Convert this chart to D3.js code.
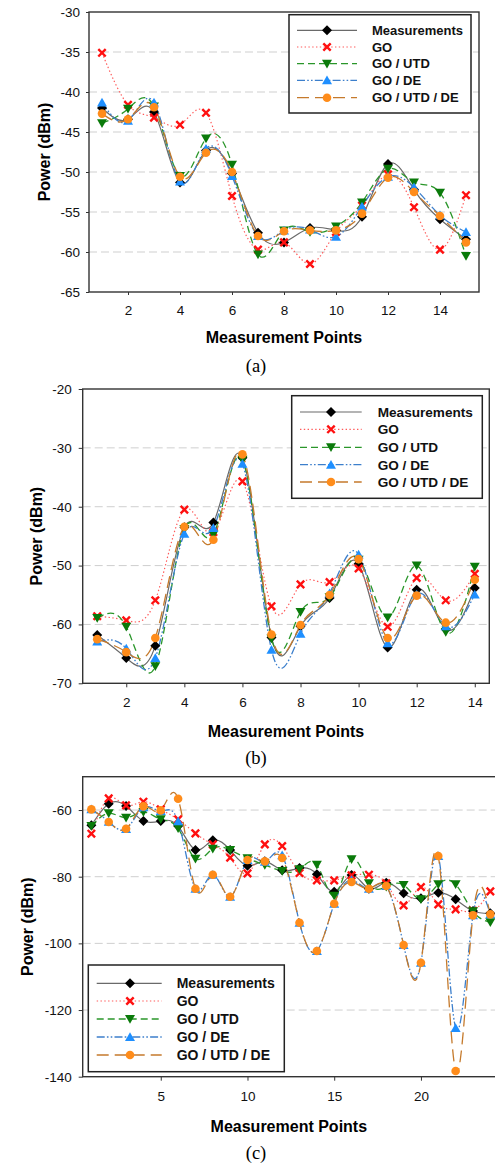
<!DOCTYPE html>
<html><head><meta charset="utf-8">
<script src="https://cdn.jsdelivr.net/npm/d3@7"></script>
<style>body{margin:0;background:#fff} svg{display:block}</style>
</head><body>
<script>
// ---------- DATA ----------
const seriesNames = ["Measurements", "GO", "GO / UTD", "GO / DE", "GO / UTD / DE"];

// Panel (a)
const pointsA = [1,2,3,4,5,6,7,8,9,10,11,12,13,14,15];
const measA  = [-42.0,-43.4,-42.5,-51.3,-47.3,-50.2,-57.6,-58.8,-57.0,-57.3,-55.6,-49.0,-52.2,-55.9,-58.4];
const goA    = [-35.1,-41.6,-43.2,-44.1,-42.6,-53.0,-59.7,-58.8,-61.5,-57.5,-54.2,-50.3,-54.4,-59.7,-52.9];
const utdA   = [-43.9,-42.1,-41.8,-50.5,-45.8,-49.1,-60.3,-57.3,-57.5,-56.8,-53.8,-49.6,-51.3,-52.6,-60.5];
const deA    = [-41.3,-43.6,-41.3,-51.2,-47.1,-50.5,-58.0,-57.3,-57.2,-58.1,-54.3,-50.6,-51.9,-55.4,-57.5];
const utddeA = [-42.7,-43.4,-41.9,-50.6,-47.6,-50.0,-58.0,-57.4,-57.3,-57.3,-55.2,-50.7,-52.5,-55.5,-58.8];
const xTicksA = [2,4,6,8,10,12,14];
const yTicksA = [-30,-35,-40,-45,-50,-55,-60,-65];
const yGridA  = [-35,-40,-45,-50,-55,-60];

// Panel (b)
const pointsB = [1,2,3,4,5,6,7,8,9,10,11,12,13,14];
const measB  = [-61.8,-65.7,-63.6,-43.5,-42.7,-31.7,-62.2,-60.3,-55.5,-49.7,-63.9,-54.1,-60.8,-53.8];
const goB    = [-58.6,-59.3,-55.9,-40.5,-44.3,-35.7,-56.9,-53.2,-52.8,-50.5,-60.4,-52.1,-55.9,-51.4];
const utdB   = [-58.9,-60.4,-67.1,-43.8,-44.7,-32.0,-62.4,-57.9,-55.4,-49.0,-58.8,-50.0,-61.3,-50.2];
const deB    = [-62.9,-64.1,-65.7,-44.6,-43.6,-32.7,-64.3,-61.6,-54.7,-48.1,-63.2,-54.9,-60.3,-54.9];
const utddeB = [-62.5,-64.7,-62.3,-43.4,-45.6,-31.1,-61.7,-60.1,-55.0,-48.9,-62.3,-55.1,-59.7,-52.4];
const xTicksB = [2,4,6,8,10,12,14];
const yTicksB = [-20,-30,-40,-50,-60,-70];
const yGridB  = [-30,-40,-50,-60];

// Panel (c)
const pointsC = [1,2,3,4,5,6,7,8,9,10,11,12,13,14,15,16,17,18,19,20,21,22,23,24];
const measC  = [-64.6,-58.1,-58.8,-63.3,-63.3,-64.8,-72.0,-69.1,-72.0,-76.7,-75.4,-78.1,-77.4,-79.3,-84.5,-79.5,-83.6,-81.8,-85.0,-86.5,-84.8,-86.8,-90.3,-91.0];
const goC    = [-67.1,-56.5,-58.6,-57.5,-59.8,-62.8,-67.0,-70.3,-74.3,-79.0,-70.3,-70.8,-78.9,-81.1,-81.1,-79.6,-79.4,-82.0,-88.6,-83.1,-88.3,-89.8,-90.2,-84.4];
const utdC   = [-64.8,-61.0,-62.3,-60.6,-62.8,-65.5,-74.6,-71.6,-72.0,-74.5,-76.5,-78.3,-77.8,-76.4,-85.7,-74.8,-82.0,-83.0,-82.5,-86.8,-82.3,-82.3,-90.4,-93.7];
const deC    = [-59.8,-63.5,-65.7,-59.2,-60.3,-63.4,-83.6,-79.4,-86.0,-75.0,-75.5,-73.6,-93.8,-102.3,-88.1,-81.0,-83.6,-82.8,-100.5,-105.8,-73.8,-125.4,-91.6,-91.3];
const utddeC = [-59.8,-63.6,-65.6,-58.9,-60.1,-56.6,-83.6,-79.4,-86.0,-75.0,-75.4,-74.4,-93.8,-102.3,-88.1,-81.6,-83.6,-82.8,-100.5,-105.8,-73.8,-138.3,-91.6,-91.3];
const xTicksC = [5,10,15,20];
const yTicksC = [-60,-80,-100,-120,-140];
const yGridC  = [-60,-80,-100,-120];

// ---------- STYLES ----------
const styles = [
  {line:"#6a6a6a", dash:null,               width:1.2, marker:"diamond", fill:"#000"},
  {line:"#ff5a5a", dash:"1.4,2.4",          width:1.2, marker:"cross",   fill:"#ff1010"},
  {line:"#2a962a", dash:"7,4",              width:1.3, marker:"tdown",   fill:"#0a7a0a"},
  {line:"#3c7fcc", dash:"8,2.2,1.6,2.2,1.6,2.2", width:1.3, marker:"tup", fill:"#1e8fff"},
  {line:"#c57a2c", dash:"12,6",             width:1.3, marker:"circle",  fill:"#ff8c1a"}
];

const FONT = "'Liberation Sans', Arial, sans-serif";
const svg = d3.select("body").append("svg").attr("width",495).attr("height",1167);

function drawMarker(g, type, cx, cy, fill, s) {
  s = s || 1;
  if (type === "diamond") {
    const r = 5*s;
    g.append("path").attr("d",`M${cx},${cy-r}L${cx+r},${cy}L${cx},${cy+r}L${cx-r},${cy}Z`).attr("fill",fill);
  } else if (type === "cross") {
    const r = 3.7*s;
    g.append("path").attr("d",`M${cx-r},${cy-r}L${cx+r},${cy+r}M${cx-r},${cy+r}L${cx+r},${cy-r}`)
      .attr("stroke",fill).attr("stroke-width",2.4).attr("fill","none");
  } else if (type === "tdown") {
    const r = 5*s;
    g.append("path").attr("d",`M${cx-r},${cy-r*0.8}L${cx+r},${cy-r*0.8}L${cx},${cy+r*0.95}Z`).attr("fill",fill);
  } else if (type === "tup") {
    const r = 5*s;
    g.append("path").attr("d",`M${cx-r},${cy+r*0.8}L${cx+r},${cy+r*0.8}L${cx},${cy-r*0.95}Z`).attr("fill",fill);
  } else {
    g.append("circle").attr("cx",cx).attr("cy",cy).attr("r",4.3*s).attr("fill",fill);
  }
}

function panel(cfg, id) {
  const x = d3.scaleLinear().domain(cfg.xDomain).range([cfg.left, cfg.right]);
  const y = d3.scaleLinear().domain(cfg.yDomain).range([cfg.bottom, cfg.top]);
  const g = svg.append("g");
  const fmt = d => String(d);

  g.append("clipPath").attr("id","clip"+id).append("rect")
    .attr("x",cfg.left).attr("y",cfg.top).attr("width",cfg.right-cfg.left).attr("height",cfg.bottom-cfg.top);

  // grid
  g.selectAll(".grid").data(cfg.yGrid).enter().append("line")
    .attr("x1",cfg.left).attr("x2",cfg.right).attr("y1",d=>y(d)).attr("y2",d=>y(d))
    .attr("stroke","#cfcfcf").attr("stroke-width",1).attr("stroke-dasharray","8,4");

  // axes
  const ya = g.append("g").attr("transform",`translate(${cfg.left},0)`)
    .call(d3.axisLeft(y).tickValues(cfg.yTicks).tickSize(cfg.tick).tickPadding(cfg.pad).tickFormat(fmt));
  const xa = g.append("g").attr("transform",`translate(0,${cfg.bottom})`)
    .call(d3.axisBottom(x).tickValues(cfg.xTicks).tickSize(cfg.tick).tickPadding(cfg.xpad).tickFormat(fmt));
  [ya, xa].forEach(a => {
    a.select(".domain").remove();
    a.selectAll("line").attr("stroke","#333");
    a.selectAll("text").attr("font-family",FONT).attr("font-size",cfg.tickFont).attr("fill","#111");
  });

  // series
  const lg = g.append("g").attr("clip-path",`url(#clip${id})`);
  const line = d3.line().x(d=>x(d[0])).y(d=>y(d[1])).curve(d3.curveNatural);
  cfg.series.forEach((vals, k) => {
    const st = styles[k];
    const pts = cfg.points.map((p,i)=>[p, vals[i]]);
    lg.append("path").attr("d", line(pts)).attr("fill","none")
      .attr("stroke", st.line).attr("stroke-width", st.width)
      .attr("stroke-dasharray", st.dash);
  });
  cfg.series.forEach((vals, k) => {
    const st = styles[k];
    const mg = g.append("g");
    cfg.points.forEach((p,i) => drawMarker(mg, st.marker, x(p), y(vals[i]), st.fill, cfg.ms));
  });

  // frame
  g.append("rect").attr("x",cfg.left).attr("y",cfg.top)
    .attr("width",cfg.right-cfg.left).attr("height",cfg.bottom-cfg.top)
    .attr("fill","none").attr("stroke","#333").attr("stroke-width",1.4);

  // titles
  g.append("text").attr("x",(cfg.left+Math.min(cfg.right,495))/2).attr("y",cfg.xTitleY)
    .attr("text-anchor","middle").attr("font-family",FONT).attr("font-weight","bold")
    .attr("font-size",16).text("Measurement Points");
  g.append("text").attr("transform",`translate(${cfg.yTitleX},${(cfg.top+cfg.bottom)/2}) rotate(-90)`)
    .attr("text-anchor","middle").attr("font-family",FONT).attr("font-weight","bold")
    .attr("font-size",16).text("Power (dBm)");
  g.append("text").attr("x",256).attr("y",cfg.capY).attr("text-anchor","middle")
    .attr("font-family","'Liberation Serif','Times New Roman',serif").attr("font-size",18.5).text(cfg.caption);

  // legend
  const L = cfg.legend;
  g.append("rect").attr("x",L.x0).attr("y",L.y0).attr("width",L.x1-L.x0).attr("height",L.y1-L.y0)
    .attr("fill","#fff").attr("stroke","#222").attr("stroke-width",1.5);
  seriesNames.forEach((name,k) => {
    const st = styles[k];
    const ry = L.rows[k];
    g.append("line").attr("x1",L.lx0).attr("x2",L.lx1).attr("y1",ry).attr("y2",ry)
      .attr("stroke",st.line).attr("stroke-width",st.width).attr("stroke-dasharray",st.dash);
    drawMarker(g, st.marker, L.mx, ry, st.fill, 1);
    g.append("text").attr("x",L.tx).attr("y",ry).attr("dy","0.36em")
      .attr("font-family",FONT).attr("font-weight","bold").attr("font-size",L.font).attr("fill","#111").text(name);
  });
}

panel({
  left:89, right:479, top:12, bottom:292,
  xDomain:[0.5,15.5], yDomain:[-65,-30],
  xTicks:xTicksA, yTicks:yTicksA, yGrid:yGridA,
  tick:3, pad:6, xpad:10, tickFont:13.5, ms:1,
  points:pointsA, series:[measA,goA,utdA,deA,utddeA],
  xTitleY:343, yTitleX:50, capY:372, caption:"(a)",
  legend:{x0:289,x1:471,y0:14.7,y1:113,rows:[30.3,47,63.7,80.3,97.7],lx0:297,lx1:357,mx:327,tx:372,font:13}
}, "a");

panel({
  left:82.7, right:489.3, top:389, bottom:683.3,
  xDomain:[0.5,14.5], yDomain:[-70,-20],
  xTicks:xTicksB, yTicks:yTicksB, yGrid:yGridB,
  tick:4, pad:7, xpad:10, tickFont:13.5, ms:1,
  points:pointsB, series:[measB,goB,utdB,deB,utddeB],
  xTitleY:736.7, yTitleX:42, capY:764, caption:"(b)",
  legend:{x0:291.7,x1:482.3,y0:395.7,y1:498.3,rows:[412,429.3,447.3,464.7,482],lx0:300,lx1:361.7,mx:331,tx:377.7,font:13.6}
}, "b");

panel({
  left:82.7, right:499, top:776.7, bottom:1076.7,
  xDomain:[0.5,24.5], yDomain:[-140,-50],
  xTicks:xTicksC, yTicks:yTicksC, yGrid:yGridC,
  tick:4, pad:7, xpad:11, tickFont:13.5, ms:1,
  points:pointsC, series:[measC,goC,utdC,deC,utddeC],
  xTitleY:1131.7, yTitleX:33, capY:1159, caption:"(c)",
  legend:{x0:88.3,x1:284.3,y0:965,y1:1071.7,rows:[983.3,1001,1019,1037,1055],lx0:96.7,lx1:161.7,mx:130,tx:176.7,font:14}
}, "c");
</script>
</body></html>
